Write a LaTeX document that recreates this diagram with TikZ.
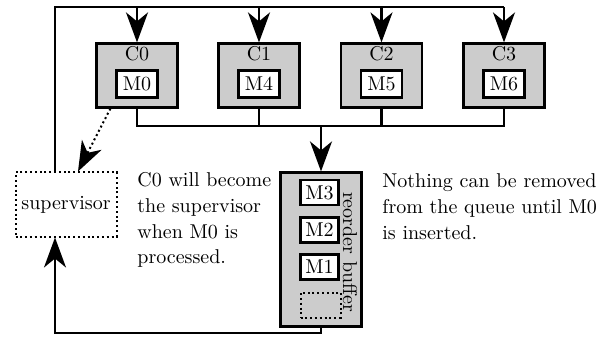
\documentclass[tikz,border=0pt]{standalone}
\usetikzlibrary{arrows.meta,calc}
\begin{document}
\begin{tikzpicture}[x=0.5pt,y=-0.5pt,
  font=\fontsize{10}{12.8}\selectfont,
  ln/.style={line width=1.1pt},
  arr/.style={ln,-{Stealth[length=15pt,width=11pt,inset=4.5pt]}},
  dots/.style={line width=1pt,dash pattern=on 1pt off 1.4pt},
  core/.style={draw,line width=1.1pt,fill=gray!40,minimum width=40.5pt,minimum height=32pt,inner sep=0pt},
  msg/.style={draw,line width=1.1pt,fill=white,minimum width=20.5pt,minimum height=13.5pt,inner sep=0pt},
  bmsg/.style={draw,line width=1.1pt,fill=white,minimum width=19pt,minimum height=12.5pt,inner sep=0pt},
  slot/.style={draw,dots,minimum width=20pt,minimum height=12.5pt,inner sep=0pt},
  note/.style={align=left,anchor=base west,inner sep=0pt}
]
\useasboundingbox (0,0) rectangle (613,341);
% cores
\foreach \i/\m/\x in {0/0/137,1/4/259,2/5/381.5,3/6/504}{
  \node[core] (c\i) at (\x,75.5) {};
  \node (cl\i) at (\x,54) {C\i};
  \node[msg] (m\i) at (\x,84) {M\m};
}
% reorder buffer
\node[core,minimum height=77pt] (buf) at (321,249.5) {};
\node[bmsg] (b3) at (319.5,192.5) {M3};
\node[bmsg] (b2) at (319.5,230) {M2};
\node[bmsg] (b1) at (319.5,267) {M1};
\node[slot] (b0) at (320.5,305) {};
\node[rotate=-90,inner sep=0pt] (bl) at (350,252) {reorder buffer};
% supervisor
\node[draw,dots,minimum width=50.5pt,minimum height=32pt,inner sep=0pt] (sup) at (66,204.5) {supervisor};
% notes (anchor = baseline of last line)
\node[note] (n1) at (137,263.8) {C0 will become\\the supervisor\\when M0 is\\processed.};
\node[note] (n2) at (382,239) {Nothing can be removed\\from the queue until M0\\is inserted.};
% top distribution line
\coordinate (tl) at (55,7);
\coordinate (tr) at (504,7);
\draw[ln] (sup.north -| tl) -- (tl) -- (tr);
\foreach \i in {0,1,2,3}{
  \draw[arr] (c\i.north |- tl) -- (c\i.north);
}
% bus to buffer
\coordinate (bus) at (0,126);
\draw[ln] (c0.south) -- (c0.south |- bus) -- (c3.south |- bus) -- (c3.south);
\draw[ln] (c1.south) -- (c1.south |- bus);
\draw[ln] (c2.south) -- (c2.south |- bus);
\draw[arr] (buf.north |- bus) -- (buf.north);
% bottom loop
\coordinate (bot) at (55,333);
\draw[arr] (buf.south) -- (buf.south |- bot) -- (bot) -- (sup.south -| bot);
% dotted C0 -> supervisor
\draw[arr,dots] ($(c0.south west)!0.18!(c0.south east)$) -- ([xshift=6pt]sup.north);
\end{tikzpicture}
\end{document}
